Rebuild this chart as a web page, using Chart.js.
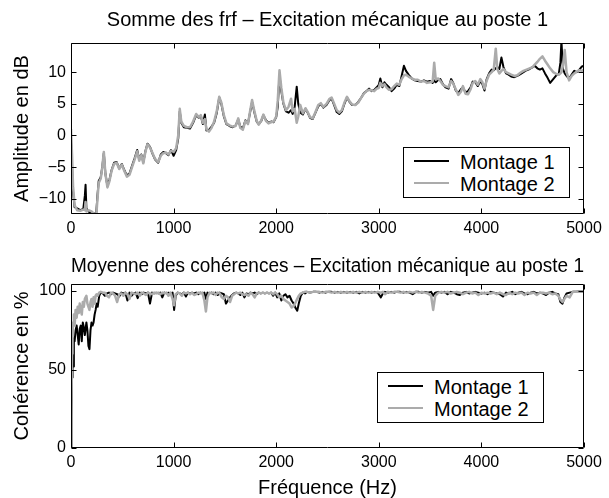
<!DOCTYPE html>
<html>
<head>
<meta charset="utf-8">
<script src="https://cdn.jsdelivr.net/npm/chart.js@4/dist/chart.umd.min.js"></script>
<style>
  html, body { margin: 0; padding: 0; background: #fff; }
  #fig { position: relative; width: 609px; height: 498px; font-family: "Liberation Sans", Arial, Helvetica, sans-serif; color: #000; }
  #fig canvas { position: absolute; left: 0; }
  .legend { position: absolute; width: 165px; height: 49px; border: 1px solid #000; background: #fff; font-size: 20px; }
  .legend .row { position: absolute; left: 0; right: 0; height: 22px; }
  .legend .swatch { position: absolute; left: 10px; width: 35px; top: 10px; }
  .legend .label { position: absolute; left: 56px; top: 0; line-height: 22px; white-space: nowrap; }
</style>
</head>
<body>
<div id="fig">
  <canvas id="ampChart" width="609" height="249" style="top:0"></canvas>
  <canvas id="cohChart" width="609" height="249" style="top:249px"></canvas>
  <div class="legend" id="ampLegend" style="left:403px; top:147px;"></div>
  <div class="legend" id="cohLegend" style="left:377px; top:372px;"></div>
</div>
<script>
// Frequency axis (Hz) shared tick labels
const X_TICKS = [0, 1000, 2000, 3000, 4000, 5000];
const AMP_TICKS = [-10, -5, 0, 5, 10];
const COH_TICKS = [0, 50, 100];

const SERIES_NAMES = ['Montage 1', 'Montage 2'];
const SERIES_COLORS = ['#000000', '#ababab'];
const SERIES_WIDTHS = [2, 2.5];

// Sum of FRFs, amplitude in dB
const FREQ_AMP = [
  0, 10, 20, 35, 60, 90, 120, 135, 142, 150, 170, 200, 225, 245, 258, 270, 290, 305, 320, 335,
  355, 375, 395, 420, 445, 470, 495, 520, 545, 570, 595, 620, 645, 665, 685, 705, 725, 745, 770, 795,
  820, 850, 875, 900, 925, 950, 975, 1000, 1025, 1045, 1060, 1075, 1100, 1130, 1160, 1190, 1220, 1245, 1265, 1285,
  1305, 1320, 1345, 1370, 1395, 1420, 1445, 1465, 1490, 1515, 1545, 1575, 1605, 1630, 1650, 1675, 1700, 1725, 1745, 1765,
  1785, 1810, 1830, 1855, 1875, 1900, 1925, 1950, 1975, 2000, 2015, 2032, 2050, 2070, 2095, 2120, 2145, 2160, 2180, 2200,
  2215, 2235, 2260, 2285, 2310, 2330, 2355, 2380, 2410, 2435, 2460, 2490, 2520, 2540, 2565, 2590, 2615, 2640, 2665, 2690,
  2715, 2740, 2770, 2800, 2830, 2855, 2880, 2905, 2930, 2955, 2980, 3000, 3015, 3035, 3055, 3075, 3100, 3125, 3150, 3175,
  3200, 3220, 3245, 3265, 3290, 3320, 3350, 3380, 3410, 3440, 3470, 3500, 3525, 3540, 3555, 3580, 3600, 3625, 3650, 3680,
  3705, 3725, 3750, 3775, 3800, 3820, 3845, 3870, 3895, 3915, 3940, 3965, 3990, 4010, 4030, 4050, 4075, 4100, 4120, 4140,
  4155, 4175, 4195, 4215, 4240, 4265, 4290, 4320, 4350, 4380, 4410, 4440, 4470, 4500, 4520, 4545, 4570, 4595, 4620, 4645,
  4670, 4700, 4730, 4755, 4770, 4780, 4795, 4812, 4830, 4855, 4880, 4905, 4930, 4955, 4980, 5000
];
const AMP_M1 = [
  -1, -5, -9, -11.3, -11.5, -11.8, -11.6, -9.5, -7.8, -11.5, -12.0, -12.2, -12.3, -12.5, -9.5, -7.2, -6.6, -5.0, -2.8, -6.0,
  -8.0, -7.0, -5.5, -4.3, -4.2, -5.2, -4.5, -5.5, -6.3, -6.0, -4.8, -3.6, -2.3, -3.8, -3.0, -4.2, -2.5, -1.3, -1.8, -2.9,
  -3.8, -4.3, -3.0, -2.6, -2.8, -3.1, -2.3, -3.2, -2.3, -0.5, 3.8, 2.0, 1.3, 1.2, 1.1, 2.0, 3.2, 2.8, 3.1, 1.8,
  3.3, 0.8, 0.9, 1.4, 2.0, 3.5, 6.0, 5.0, 3.0, 1.8, 1.5, 1.3, 1.6, 2.5, 1.4, 1.1, 2.4, 1.9, 3.6, 5.3,
  3.8, 2.2, 1.8, 2.3, 3.2, 2.4, 2.0, 2.2, 2.1, 2.9, 4.5, 9.5, 7.0, 5.0, 3.8, 3.6, 4.0, 3.4, 4.5, 7.7,
  5.0, 3.6, 3.3, 4.2, 3.5, 2.8, 2.6, 3.5, 4.6, 5.0, 4.4, 4.8, 5.6, 5.8, 4.8, 3.7, 3.4, 3.8, 5.0, 6.0,
  5.3, 4.8, 4.8, 5.3, 6.0, 6.7, 7.0, 7.4, 7.0, 7.2, 7.6, 8.0, 9.0, 7.6, 8.4, 8.0, 7.6, 7.0, 7.4, 8.0,
  7.8, 9.2, 11.0, 10.2, 9.6, 9.0, 8.7, 8.6, 8.5, 8.7, 8.5, 8.6, 8.3, 8.7, 8.4, 8.8, 8.9, 8.1, 7.6, 7.4,
  8.9, 8.3, 7.1, 6.7, 7.3, 7.6, 6.8, 7.0, 7.6, 8.5, 8.4, 7.8, 8.6, 8.1, 7.1, 8.8, 9.8, 10.4, 10.3, 10.6,
  10.8, 10.5, 12.3, 10.8, 9.8, 9.6, 9.3, 9.2, 9.4, 9.7, 10.0, 10.3, 10.5, 10.8, 11.0, 10.6, 10.4, 10.6, 9.8, 9.1,
  8.3, 8.9, 9.5, 9.8, 11.5, 14.9, 10.5, 9.8, 9.4, 9.0, 9.6, 10.2, 10.0, 10.4, 10.9, 11.0
];
const AMP_M2 = [
  1, -3, -8, -11.0, -11.8, -11.9, -11.7, -11.8, -10.5, -12.0, -11.8, -12.0, -12.4, -13.0, -10.0, -7.5, -6.8, -5.0, -2.6, -6.0,
  -8.2, -7.2, -5.6, -4.5, -4.3, -5.3, -4.6, -5.6, -6.5, -6.2, -5.0, -3.8, -2.5, -4.0, -3.1, -4.4, -2.6, -1.4, -1.9, -2.8,
  -3.7, -4.2, -3.2, -2.8, -2.7, -3.0, -2.4, -2.6, -2.0, 0.0, 4.2, 2.2, 1.5, 1.3, 1.3, 2.2, 3.4, 2.9, 3.2, 2.0,
  2.6, 1.0, 0.6, 1.2, 2.2, 3.8, 6.1, 5.2, 3.2, 1.9, 1.6, 1.4, 1.5, 2.7, 1.2, 0.9, 2.3, 1.8, 3.8, 5.6,
  4.0, 2.3, 1.7, 2.4, 3.3, 2.3, 1.9, 2.1, 2.2, 3.0, 5.5, 10.3, 7.5, 5.2, 4.0, 4.5, 5.8, 3.8, 4.2, 2.0,
  3.0, 4.8, 3.5, 4.3, 3.6, 2.9, 2.7, 3.6, 4.8, 5.1, 4.5, 5.0, 5.8, 6.0, 5.0, 4.0, 3.6, 4.0, 5.2, 6.1,
  5.4, 4.9, 4.8, 5.2, 6.0, 6.6, 7.0, 7.2, 7.1, 7.0, 7.4, 7.5, 8.3, 7.8, 8.1, 7.6, 7.2, 7.3, 7.8, 8.2,
  8.0, 8.8, 9.5, 9.6, 9.3, 9.0, 8.8, 8.8, 8.5, 8.6, 8.3, 8.4, 8.5, 11.5, 8.8, 9.0, 8.6, 8.0, 7.8, 7.6,
  8.6, 8.2, 7.3, 6.4, 6.9, 7.8, 6.6, 6.5, 7.3, 8.3, 8.6, 8.0, 8.9, 8.4, 7.4, 8.6, 9.6, 10.0, 10.4, 13.7,
  10.5, 9.8, 10.2, 10.5, 10.0, 9.8, 9.6, 9.4, 9.5, 9.9, 10.2, 10.4, 10.6, 10.8, 11.2, 11.6, 12.1, 12.5, 11.8, 11.2,
  10.6, 10.0, 9.7, 9.6, 9.8, 10.0, 11.0, 13.5, 10.0, 8.7, 9.4, 9.8, 10.1, 10.3, 10.2, 10.4
];

// Mean coherence, in %
const FREQ_COH = [
  0, 5, 10, 15, 20, 28, 35, 45, 55, 65,
  75, 85, 95, 105, 115, 125, 135, 150, 160, 170,
  180, 190, 200, 210, 220, 230, 240, 250, 260, 275,
  290, 310, 330, 350, 370, 390, 410, 430, 450, 470,
  490, 510, 530, 550, 570, 590, 610, 630, 650, 670,
  690, 710, 730, 750, 770, 790, 810, 830, 850, 870,
  890, 910, 930, 950, 970, 990, 1005, 1020, 1040, 1060,
  1080, 1100, 1120, 1140, 1160, 1180, 1200, 1220, 1240, 1260,
  1280, 1300, 1315, 1330, 1350, 1370, 1390, 1410, 1430, 1450,
  1470, 1490, 1510, 1530, 1550, 1570, 1590, 1610, 1630, 1650,
  1670, 1690, 1710, 1730, 1750, 1770, 1790, 1810, 1830, 1850,
  1870, 1890, 1910, 1930, 1950, 1970, 1990, 2010, 2030, 2050,
  2070, 2090, 2110, 2130, 2150, 2170, 2190, 2205, 2220, 2240,
  2260, 2280, 2300, 2330, 2360, 2390, 2420, 2450, 2480, 2510,
  2540, 2570, 2600, 2630, 2660, 2690, 2720, 2750, 2780, 2810,
  2840, 2870, 2900, 2930, 2960, 2990, 3020, 3040, 3060, 3090,
  3120, 3150, 3180, 3210, 3240, 3270, 3300, 3330, 3360, 3390,
  3420, 3450, 3480, 3510, 3530, 3550, 3580, 3610, 3640, 3670,
  3700, 3730, 3760, 3790, 3820, 3850, 3880, 3910, 3940, 3970,
  4000, 4030, 4060, 4090, 4120, 4150, 4180, 4210, 4240, 4270,
  4300, 4330, 4360, 4390, 4420, 4450, 4480, 4510, 4540, 4570,
  4600, 4630, 4660, 4690, 4720, 4750, 4770, 4790, 4810, 4830,
  4860, 4890, 4920, 4950, 4980, 5000
];
const COH_M1 = [
  0, 20, 45, 65, 52, 70, 68, 75, 78, 72,
  66, 76, 78, 68, 80, 77, 72, 80, 75, 65,
  63, 75, 80, 78, 80, 85, 88, 92, 90, 97,
  99, 98.5, 97, 98.5, 99, 98, 99, 98.5, 98, 96.5,
  99, 98.5, 99, 94, 99, 97, 98.5, 99, 95.5, 99,
  98, 99, 98.5, 99, 92, 99, 98.5, 99, 98.5, 99,
  96, 99, 98.5, 99, 98.5, 99, 88, 97, 99, 98.5,
  98, 99, 96.5, 99, 98.5, 99, 98.5, 99, 98, 99,
  98.5, 99, 95, 99, 98.5, 99, 98, 99, 97.5, 99,
  98.5, 98, 92, 94, 96, 97.5, 98.5, 99, 98.5, 97.5,
  99, 96, 98.5, 98, 99, 98.5, 99, 98, 99, 98.5,
  99, 98.5, 99, 98.5, 99, 97, 99, 96, 98.5, 94,
  97, 98, 96, 97, 94, 92, 89, 87.5, 92, 97,
  99, 98.5, 99.5, 99, 99.5, 99.5, 99, 99.5, 99, 99.5,
  99.5, 99, 99.5, 99, 99.5, 99, 99.5, 99, 99.5, 98.5,
  99.5, 99, 99.5, 99, 99.5, 99, 96, 98.5, 99.5, 99,
  99.5, 99, 99.5, 99.5, 99, 99.5, 99, 98, 99.5, 99.5,
  99, 99.5, 99, 99.5, 97, 99, 99.5, 99, 99.5, 98,
  99.5, 99, 98, 97.5, 99, 99.5, 98.5, 99, 99.5, 99,
  98.5, 99, 98, 99.5, 99, 98.5, 98, 96.5, 99, 98.5,
  99.5, 98, 99, 99.5, 98.5, 98, 99, 99.5, 98.5, 99,
  98.5, 97.5, 99, 99.5, 98.5, 98, 93, 92, 96, 98.5,
  99, 99.5, 99.5, 99.8, 99.8, 99.8
];
const COH_M2 = [
  0, 30, 60, 70, 80, 85, 78, 88, 83, 90,
  86, 92, 88, 85, 93, 90, 95, 97, 92, 90,
  88, 93, 95, 90, 96, 92, 97, 98, 97, 99,
  99.5, 99, 99, 97, 96, 99, 98.5, 97, 93, 98,
  98.5, 97, 99, 98, 95, 99, 98.5, 98, 99, 97,
  99, 98.5, 97.5, 99, 98.5, 98, 99, 98.5, 99, 98,
  99, 98.5, 99, 97, 99, 95, 91, 98, 99, 98.5,
  97, 99, 98.5, 99, 98, 99, 97.5, 98, 99, 98.5,
  99, 94, 87, 96, 99, 98.5, 99, 97.5, 99, 98.5,
  96, 95, 97, 96, 93, 97, 98, 99, 98.5, 99,
  98, 97.5, 98, 97, 99, 98, 96, 98.5, 99, 98.5,
  99, 98.5, 99, 98.5, 99, 98, 99, 98, 96, 97,
  95, 94, 93, 92, 89.5, 90.5, 93, 95, 97, 98.5,
  99, 99.5, 99.5, 99, 99.5, 99.5, 99.5, 99, 99.5, 99.5,
  99, 99.5, 99, 99.5, 99, 99.5, 99, 99.5, 99, 99.5,
  99, 99.5, 99, 99.5, 99, 99.5, 99, 99.5, 98, 99.5,
  99, 99.5, 99.5, 99, 99.5, 99, 99.5, 99, 99.5, 99,
  99.5, 99, 98.5, 97, 88, 97, 99, 99.5, 99, 99.5,
  98.5, 99, 99.5, 99, 98, 99, 99.5, 98.5, 99, 97.5,
  99, 98.5, 99, 98.5, 99, 98, 99, 98, 97.5, 99,
  98, 99, 98.5, 99, 97.5, 99, 98.5, 99, 97.5, 99,
  99, 98.5, 99, 98, 98.5, 97, 94.5, 93, 95, 97,
  96, 99.5, 99.5, 99.5, 99.8, 99.8
];

const FONT_FAMILY = '"Liberation Sans", Arial, Helvetica, sans-serif';

const toPoints = (xs, ys) => xs.map((x, i) => ({ x: x, y: ys[i] }));
const fmtTick = v => (v < 0 ? '\u2212' + Math.abs(v) : String(v));

// Box around the axes with inward tick marks on all four sides
const frameWithTicks = {
  id: 'frameWithTicks',
  afterDraw(chart) {
    const { ctx, chartArea: a, scales } = chart;
    const L = Math.round(a.left) + 0.5, R = Math.round(a.right) - 0.5;
    const T = Math.round(a.top) + 0.5, B = Math.round(a.bottom) - 0.5;
    const len = 5;
    ctx.save();
    ctx.strokeStyle = '#000';
    ctx.lineWidth = 1;
    ctx.beginPath();
    ctx.rect(L, T, R - L, B - T);
    scales.x.ticks.forEach(t => {
      const px = Math.round(scales.x.getPixelForValue(t.value)) + 0.5;
      ctx.moveTo(px, B); ctx.lineTo(px, B - len);
      ctx.moveTo(px, T); ctx.lineTo(px, T + len);
    });
    scales.y.ticks.forEach(t => {
      const py = Math.round(scales.y.getPixelForValue(t.value)) + 0.5;
      ctx.moveTo(L, py); ctx.lineTo(L + len, py);
      ctx.moveTo(R, py); ctx.lineTo(R - len, py);
    });
    ctx.stroke();
    ctx.restore();
  }
};

function makePanel(canvasId, opts) {
  const datasets = opts.series.map((ys, i) => ({
    label: SERIES_NAMES[i],
    data: toPoints(opts.freq, ys),
    borderColor: SERIES_COLORS[i],
    borderWidth: SERIES_WIDTHS[i],
    borderJoinStyle: 'round',
    pointRadius: 0,
    tension: 0,
    fill: false,
    order: i === 0 ? 2 : 1
  }));
  return new Chart(document.getElementById(canvasId), {
    type: 'line',
    data: { datasets },
    plugins: [frameWithTicks],
    options: {
      responsive: false,
      animation: false,
      devicePixelRatio: 1,
      layout: { padding: { left: 0, right: 25, top: 0, bottom: 0 } },
      plugins: {
        legend: { display: false },
        tooltip: { enabled: false },
        title: {
          display: true,
          text: opts.title,
          fullSize: false,
          color: '#000',
          font: { family: FONT_FAMILY, size: 20, weight: 'normal', lineHeight: 1.2 },
          padding: opts.titlePadding
        }
      },
      scales: {
        x: {
          type: 'linear',
          min: 0,
          max: 5000,
          afterBuildTicks: s => { s.ticks = X_TICKS.map(v => ({ value: v })); },
          afterFit: s => { s.height = opts.xAxisHeight; },
          grid: { display: false, drawTicks: false },
          border: { display: false },
          ticks: {
            color: '#000', padding: 5, maxRotation: 0, autoSkip: false,
            font: { family: FONT_FAMILY, size: 16 },
            callback: v => fmtTick(v)
          },
          title: opts.xTitle ? {
            display: true, text: opts.xTitle, color: '#000',
            font: { family: FONT_FAMILY, size: 20, lineHeight: 1 },
            padding: { top: 0, bottom: 0 }
          } : { display: false }
        },
        y: {
          type: 'linear',
          min: opts.yMin,
          max: opts.yMax,
          afterBuildTicks: s => { s.ticks = opts.yTicks.map(v => ({ value: v })); },
          afterFit: s => { s.width = 71; },
          grid: { display: false, drawTicks: false },
          border: { display: false },
          ticks: {
            color: '#000', padding: 5, autoSkip: false,
            font: { family: FONT_FAMILY, size: 16 },
            callback: v => fmtTick(v)
          },
          title: {
            display: true, text: opts.yTitle, color: '#000',
            font: { family: FONT_FAMILY, size: 20, lineHeight: 1.2 },
            padding: { top: 10, bottom: 0 }
          }
        }
      }
    }
  });
}

function buildLegend(id) {
  const box = document.getElementById(id);
  SERIES_NAMES.forEach((name, i) => {
    const row = document.createElement('div');
    row.className = 'row';
    row.style.top = (i === 0 ? 3 : 25) + 'px';
    const sw = document.createElement('div');
    sw.className = 'swatch';
    sw.style.height = SERIES_WIDTHS[i] + 'px';
    sw.style.marginTop = (-SERIES_WIDTHS[i] / 2) + 'px';
    sw.style.background = SERIES_COLORS[i];
    const lab = document.createElement('div');
    lab.className = 'label';
    lab.textContent = name;
    row.appendChild(sw);
    row.appendChild(lab);
    box.appendChild(row);
  });
}

makePanel('ampChart', {
  title: 'Somme des frf \u2013 Excitation mécanique au poste 1',
  titlePadding: { top: 8, bottom: 11 },
  freq: FREQ_AMP,
  series: [AMP_M1, AMP_M2],
  yMin: -12.4, yMax: 14.6,
  yTicks: AMP_TICKS,
  yTitle: 'Amplitude en dB',
  xAxisHeight: 35
});

makePanel('cohChart', {
  title: 'Moyenne des cohérences \u2013 Excitation mécanique au poste 1',
  titlePadding: { top: 5, bottom: 6 },
  freq: FREQ_COH,
  series: [COH_M1, COH_M2],
  yMin: 0, yMax: 104.5,
  yTicks: COH_TICKS,
  yTitle: 'Cohérence en %',
  xTitle: 'Fréquence (Hz)',
  xAxisHeight: 50
});

buildLegend('ampLegend');
buildLegend('cohLegend');
</script>
</body>
</html>
